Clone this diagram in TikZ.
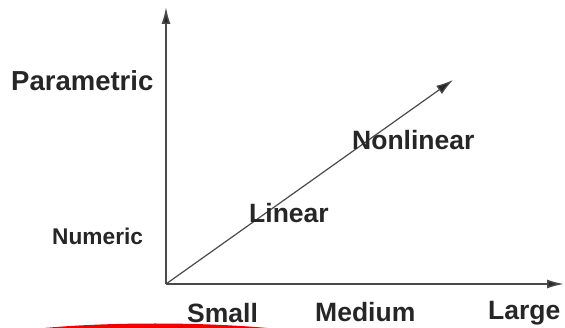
\documentclass[tikz,border=0pt]{standalone}
\usepackage{fontspec}
\setmainfont{Liberation Sans}
\usepackage{xcolor}
\usetikzlibrary{arrows.meta,positioning}
\definecolor{axisGray}{HTML}{4A4A4A}
\definecolor{textGray}{HTML}{262626}
\definecolor{markRed}{HTML}{F00000}
\tikzset{
  eje/.style={draw=axisGray, line width=1.6pt, -{Latex[length=17pt,width=9pt,fill=textGray]}},
  diag/.style={draw=axisGray, line width=1.2pt, -{Latex[length=17pt,width=10pt,fill=textGray]}},
  etiq/.style={anchor=base west, inner sep=0pt, text=textGray, font=\fontsize{26.5}{30}\selectfont\bfseries},
  etiqbig/.style={etiq, font=\fontsize{27.5}{31}\selectfont\bfseries},
  etiqsmall/.style={etiq, font=\fontsize{22.7}{26}\selectfont\bfseries},
}
\begin{document}
\begin{tikzpicture}[x=1pt, y=-1pt]
\useasboundingbox (0,0) rectangle (565,328);
\coordinate (o) at (166,284);
\coordinate (ytop) at (166,7);
\coordinate (xend) at (564,284);
\coordinate (dend) at (453,80);
\draw[eje] (o) -- (ytop);
\draw[eje] (o) -- (xend);
\draw[diag] (o) -- (dend);
\node[etiqbig] (param) at (11,91) {Parametric};
\node[etiqsmall] (num) at (52,245) {Numeric};
\node[etiq] (lin) at (249,223) {Linear};
\node[etiq] (nonlin) at (352,150) {Nonlinear};
\node[etiq] (small) at (187,323) {Small};
\node[etiq] (medium) at (315,322) {Medium};
\node[etiq] (large) at (488,320) {Large};
% red mark at the bottom edge
\draw[markRed, line width=5pt] (30,332) .. controls (100,324) and (210,324) .. (282,332);
\end{tikzpicture}
\end{document}
